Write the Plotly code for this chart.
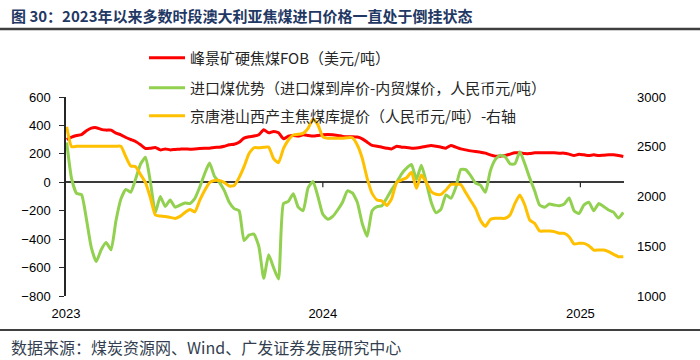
import pandas as pd
import plotly.graph_objects as go

# ---------------- data (weekly) ----------------
dates = pd.date_range("2023-01-02", periods=114, freq="7D")

fob_usd = [
    301, 318, 329, 336, 362, 381, 384, 372, 367, 367,
    346, 334, 315, 301, 287, 264, 238, 240, 245, 228,
    235, 228, 231, 233, 235, 233, 235, 238, 240, 240,
    245, 247, 254, 264, 268, 282, 311, 320, 325, 334,
    369, 348, 358, 348, 306, 325, 329, 325, 334, 329,
    325, 329, 334, 336, 334, 329, 323, 320, 320, 318,
    306, 282, 259, 254, 247, 240, 235, 254, 247, 245,
    240, 242, 247, 254, 259, 254, 247, 240, 259, 247,
    235, 228, 221, 216, 212, 205, 193, 184, 184, 188,
    198, 207, 207, 202, 202, 207, 207, 207, 207, 207,
    205, 205, 198, 188, 198, 193, 188, 193, 188, 191,
    193, 193, 188, 181,
]

import_adv = [
    280, 24, -78, -87, -259, -459, -558, -475, -424, -475,
    -271, -118, -50, -70, 24, 129, 176, 0, -212, -100,
    -170, -125, -175, -160, -145, -150, -115, -35, 60, 135,
    42, 0, -59, -140, -185, -200, -410, -372, -365, -450,
    -675, -510, -600, -680, -150, -135, -80, -175, -200, -40,
    5, -100, -225, -260, -240, -195, -140, -60, -75, -140,
    -290, -380, -200, -172, -165, -110, -50, 0, 60, 100,
    125, 20, 120, 0, -140, -215, -188, -89, -113, -35,
    90, 89, 47, -5, -20, -71, 80, 160, 190, 180,
    130, 130, 215, 130, 30, -60, -160, -176, -153, -160,
    -165, -153, -110, -200, -220, -160, -140, -200, -150, -170,
    -195, -210, -252, -212,
]

port_price = [
    2700, 2500, 2505, 2505, 2505, 2505, 2505, 2505, 2505, 2505,
    2505, 2505, 2400, 2306, 2300, 2220, 2140, 1985, 1814, 1804,
    1800, 1790, 1780, 1800, 1840, 1870, 1845, 1960, 2060, 2140,
    2160, 2160, 2140, 2105, 2110, 2190, 2300, 2430, 2490, 2490,
    2494, 2497, 2380, 2340, 2480, 2568, 2618, 2625, 2635, 2685,
    2780, 2720, 2600, 2585, 2585, 2585, 2585, 2591, 2591, 2518,
    2384, 2183, 2032, 1965, 1955, 1910, 1982, 2142, 2166, 2189,
    2243, 2082, 2216, 2142, 2049, 2022, 2022, 2065, 2122, 2122,
    2120, 2040, 1960, 1880, 1760, 1700, 1770, 1781, 1781, 1781,
    1814, 1931, 2015, 1915, 1764, 1730, 1653, 1653, 1653, 1647,
    1630, 1630, 1596, 1523, 1529, 1529, 1506, 1462, 1462, 1462,
    1446, 1419, 1395, 1395,
]

names = [
    "峰景矿硬焦煤FOB（美元/吨）",
    "进口煤优势（进口煤到岸价-内贸煤价，人民币元/吨）",
    "京唐港山西产主焦煤库提价（人民币元/吨）-右轴",
]
year_ticks = ["2023-01-01", "2024-01-01", "2025-01-01"]
year_labels = ["2023", "2024", "2025"]
left_ticks = [-800, -600, -400, -200, 0, 200, 400, 600]
right_ticks = [1000, 1500, 2000, 2500, 3000]

title_text = "图 30：2023年以来多数时段澳大利亚焦煤进口价格一直处于倒挂状态"
source_text = "数据来源：煤炭资源网、Wind、广发证券发展研究中心"

# ---------------- layout helpers ----------------
W, H = 700, 360
L, R, T, B = 66, 624, 97, 296


def X(px):
    return (px - L) / (R - L)


def Y(py):
    return (B - py) / (B - T)


CJK = "Noto Sans CJK SC, Noto Sans, sans-serif"
NUM = "Liberation Sans, Arial, sans-serif"

fig = go.Figure()
fig.add_trace(go.Scatter(x=dates, y=fob_usd, name=names[0], mode="lines",
                         line=dict(color="#FF0000", width=3, shape="spline", smoothing=0.5),
                         legend="legend"))
fig.add_trace(go.Scatter(x=dates, y=import_adv, name=names[1], mode="lines",
                         line=dict(color="#92D050", width=3, shape="spline", smoothing=0.5),
                         legend="legend2"))
fig.add_trace(go.Scatter(x=dates, y=port_price, name=names[2], mode="lines", yaxis="y2",
                         line=dict(color="#FFC000", width=3, shape="spline", smoothing=0.5),
                         legend="legend3"))

leg = dict(x=X(144), xanchor="left", yanchor="middle", bgcolor="rgba(0,0,0,0)",
           font=dict(family=CJK, size=15, color="#262626"), itemwidth=36)

shapes = [
    dict(type="line", xref="paper", yref="paper", x0=X(0), x1=X(W), y0=Y(29), y1=Y(29),
         line=dict(color="#3F3F3F", width=2.5)),
    dict(type="line", xref="paper", yref="paper", x0=X(0), x1=X(W), y0=Y(330), y1=Y(330),
         line=dict(color="#3F3F3F", width=2)),
]
for d in year_ticks[1:]:
    shapes.append(dict(type="line", xref="x", yref="y", x0=d, x1=d, ysizemode="pixel",
                       yanchor=0, y0=0, y1=-5, line=dict(color="#262626", width=1.2)))

fig.update_layout(
    width=W, height=H,
    margin=dict(l=L, r=W - R, t=T, b=H - B, pad=0),
    paper_bgcolor="white", plot_bgcolor="white",
    showlegend=True,
    legend=dict(leg, y=Y(58)),
    legend2=dict(leg, y=Y(88)),
    legend3=dict(leg, y=Y(116)),
    xaxis=dict(type="date", range=["2023-01-01", "2025-03-04"],
               tickvals=year_ticks, ticktext=year_labels, ticks="",
               showgrid=False, showline=False, zeroline=False,
               tickfont=dict(family=NUM, size=13, color="#000000"),
               ticklabelstandoff=8),
    yaxis=dict(range=[-800, 600], tickvals=left_ticks, ticks="outside", ticklen=5,
               tickcolor="#262626", showline=True, linecolor="#262626", linewidth=1.5,
               showgrid=False, zeroline=True, zerolinecolor="#3a3a3a", zerolinewidth=1.5,
               tickfont=dict(family=NUM, size=13, color="#000000"), ticklabelstandoff=6),
    yaxis2=dict(range=[1000, 3000], tickvals=right_ticks, overlaying="y", side="right",
                showline=False, showgrid=False, zeroline=False, ticks="",
                tickfont=dict(family=NUM, size=13, color="#000000"), ticklabelstandoff=12),
    shapes=shapes,
    annotations=[
        dict(text="<b>" + title_text + "</b>", xref="paper", yref="paper",
             x=X(9), y=Y(15), xanchor="left", yanchor="middle", showarrow=False,
             font=dict(family=CJK, size=15, color="#1F3864")),
        dict(text=source_text, xref="paper", yref="paper",
             x=X(9), y=Y(347), xanchor="left", yanchor="middle", showarrow=False,
             font=dict(family=CJK, size=16, color="#333F50")),
    ],
)

fig.write_html("out.html", config={"displayModeBar": False},
               post_script="document.body.style.margin='0';document.body.style.overflow='hidden';")
